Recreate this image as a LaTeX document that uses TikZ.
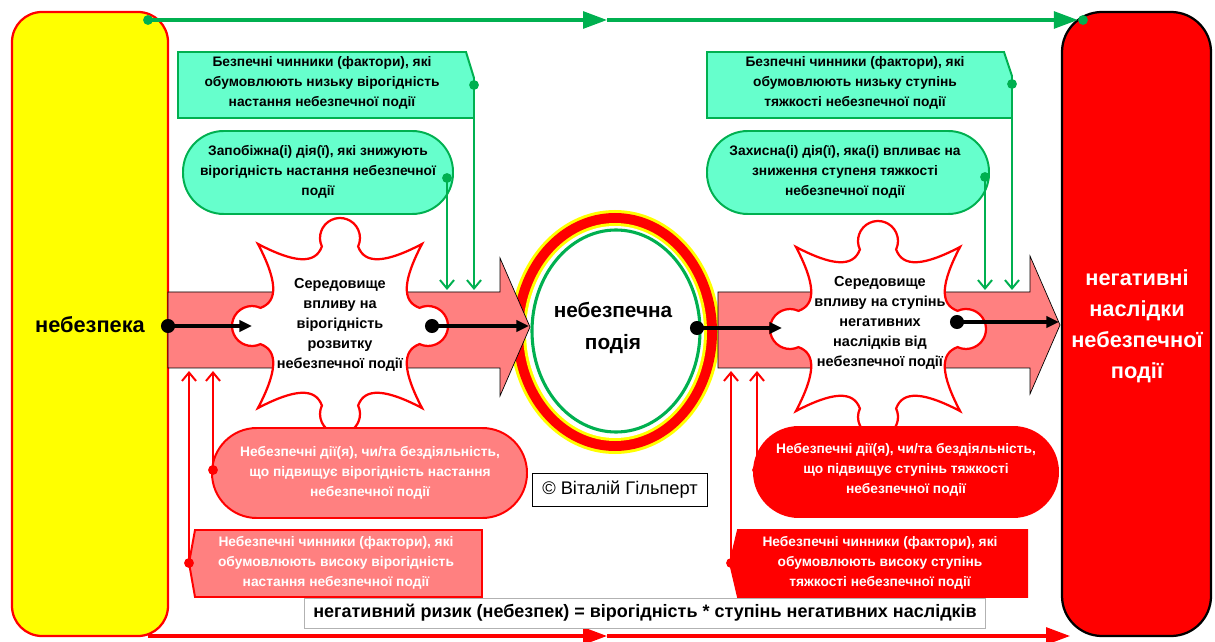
\documentclass[tikz,border=0pt]{standalone}
\usepackage{fontspec}
\setmainfont{Liberation Sans}
\usetikzlibrary{arrows.meta}
\definecolor{mint}{RGB}{102,255,204}
\definecolor{leaf}{RGB}{0,176,80}
\definecolor{rose}{RGB}{255,128,128}
\definecolor{alarm}{RGB}{255,0,0}
\definecolor{lemon}{RGB}{255,255,0}
\begin{document}
\begin{tikzpicture}[x=0.025cm,y=-0.025cm,
  boxtext/.style={font=\fontsize{9.8}{14}\selectfont\bfseries, align=center, inner sep=0pt},
  envtext/.style={font=\fontsize{10.3}{14.3}\selectfont\bfseries, align=center, inner sep=0pt},
  safebox/.style={fill=mint, draw=leaf, line width=1.4pt},
  riskbox/.style={fill=rose, draw=alarm, line width=1.4pt},
  hazardbox/.style={fill=alarm, draw=alarm, line width=1.4pt},
  gdot/.style={circle, fill=leaf, inner sep=0pt, minimum size=7pt},
  rdot/.style={circle, fill=alarm, inner sep=0pt, minimum size=7pt},
  kdot/.style={circle, fill=black, inner sep=0pt, minimum size=10pt},
  gflow/.style={draw=leaf, line width=1.4pt, -{Straight Barb[length=6pt,width=10pt]}},
  rflow/.style={draw=alarm, line width=1.4pt, -{Straight Barb[length=6pt,width=10pt]}},
  thrust/.style={draw=black, line width=2.2pt, -{Triangle[length=9pt,width=8pt]}},
  bigarrow/.style={fill=rose, draw=black, line width=0.5pt},
  jigsaw/.style={fill=white, draw=alarm, line width=1.6pt},
  timeline/.style={line width=2.2pt, -{Triangle[length=17pt,width=12pt]}}
]
\useasboundingbox (0,0) rectangle (1215,642);

% side columns: the hazard and its consequences
\draw[line width=1.6pt, draw=alarm, fill=lemon, rounded corners=0.75cm] (12,12) rectangle (168,636);
\node[font=\fontsize{15.5}{18}\selectfont\bfseries] (hazard) at (90,325) {небезпека};
\draw[line width=1.6pt, draw=black, fill=alarm, rounded corners=1cm] (1062,12) rectangle (1211,636);
\node[font=\fontsize{15.5}{22}\selectfont\bfseries, text=white, align=center] (outcome) at (1137,326) {негативні\\наслідки\\небезпечної\\події};

% top green time line
\node[gdot] (g0) at (148,20) {};
\coordinate (gmid) at (607,20);
\node[gdot] (g1) at (1083,20) {};
\draw[timeline, leaf] (g0.center) -- (gmid);
\draw[timeline, leaf] (gmid) -- (g1);

% bottom red time line
\coordinate (r0) at (148,636);
\coordinate (rmid) at (607,636);
\coordinate (r1) at (1070,636);
\draw[timeline, alarm] (r0) -- (rmid);
\draw[timeline, alarm] (rmid) -- (r1);

% the hazardous event: concentric rings
\coordinate (ev) at (615,332);
\fill[lemon] (ev) ellipse [x radius=105, y radius=122];
\fill[alarm] (ev) ellipse [x radius=102, y radius=119];
\fill[lemon] (ev) ellipse [x radius=92, y radius=109];
\fill[white] (ev) ellipse [x radius=89, y radius=106];
\draw[leaf, line width=2.2pt] (616,331) ellipse [x radius=84, y radius=101];
\node[font=\fontsize{14.8}{23}\selectfont\bfseries, align=center] (event) at (613,328) {небезпечна\\подія};

% broad arrows of development
\draw[bigarrow] (168,292) -- (500,292) -- (500,258) -- (530,327) -- (500,396) -- (500,368) -- (168,368) -- cycle;
\draw[bigarrow] (718,292) -- (1030,292) -- (1030,256) -- (1060,325) -- (1030,394) -- (1030,368) -- (718,368) -- cycle;

% jigsaw-shaped environments
\foreach \cx/\cy in {340/326, 878/329}{
  \begin{scope}[shift={(\cx,\cy)}]
    \draw[jigsaw] (-12.84:81.6)
      \foreach \a in {0,90,180,270}{
        arc[start angle=\a-115, end angle=\a+115, radius=20]
        .. controls ({\a+22}:66) and ({\a+36}:78) .. ({\a+45}:116)
        .. controls ({\a+54}:78) and ({\a+68}:66) .. ({\a+90-12.84}:81.6)
      } -- cycle;
  \end{scope}
}
\node[envtext] (env1) at (340,325) {Середовище\\впливу на\\вірогідність\\розвитку\\небезпечної події};
\node[envtext] (env2) at (880,323) {Середовище\\впливу на ступінь\\негативних\\наслідків від\\небезпечної події};

% black flow through the chain
\node[kdot] (k0) at (168,326) {};
\coordinate (k0e) at (252,326);
\node[kdot] (k1) at (432,326) {};
\coordinate (k1e) at (529,326);
\node[kdot] (k2) at (697,328) {};
\coordinate (k2e) at (782,328);
\node[kdot] (k3) at (957,322) {};
\coordinate (k3e) at (1059,322);
\draw[thrust] (k0.center) -- (k0e);
\draw[thrust] (k1.center) -- (k1e);
\draw[thrust] (k2.center) -- (k2e);
\draw[thrust] (k3.center) -- (k3e);

% safe factors and actions (green)
\draw[safebox] (178,52) -- (466,52) -- (474,78) -- (474,118) -- (178,118) -- cycle;
\node[boxtext] (b1) at (322,83) {Безпечні чинники (фактори), які\\обумовлюють низьку вірогідність\\настання небезпечної події};
\draw[safebox, rounded corners=1.02cm] (183,131) rectangle (453,214);
\node[boxtext] (b2) at (318,172) {Запобіжна(і) дія(ї), які знижують\\вірогідність настання небезпечної\\події};
\draw[safebox] (707,52) -- (1004,52) -- (1012,76) -- (1012,118) -- (707,118) -- cycle;
\node[boxtext] (b3) at (855,83) {Безпечні чинники (фактори), які\\обумовлюють низьку ступінь\\тяжкості небезпечної події};
\draw[safebox, rounded corners=1.02cm] (707,131) rectangle (989,214);
\node[boxtext] (b4) at (845,172) {Захисна(і) дія(ї), яка(і) впливає на\\зниження ступеня тяжкості\\небезпечної події};

\node[gdot] (d1) at (474,85) {};
\node[gdot] (d2) at (447,178) {};
\node[gdot] (d3) at (1012,84) {};
\node[gdot] (d4) at (985,177) {};
\coordinate (e1) at (474,290);
\coordinate (e2) at (447,290);
\coordinate (e3) at (1012,290);
\coordinate (e4) at (985,290);
\draw[gflow] (d1.center) -- (e1);
\draw[gflow] (d2.center) -- (e2);
\draw[gflow] (d3.center) -- (e3);
\draw[gflow] (d4.center) -- (e4);

% dangerous actions and factors (red)
\draw[riskbox, rounded corners=1.12cm] (212,428) rectangle (527,518);
\node[boxtext, text=white] (b5) at (370,473) {Небезпечні дії(я), чи/та бездіяльність,\\що підвищує вірогідність настання\\небезпечної події};
\draw[riskbox] (195,530) -- (482,530) -- (482,597) -- (195,597) -- (189,563) -- cycle;
\node[boxtext, text=white] (b6) at (336,563) {Небезпечні чинники (фактори), які\\обумовлюють високу вірогідність\\настання небезпечної події};
\draw[hazardbox, rounded corners=1.12cm] (754,427) rectangle (1058,517);
\node[boxtext, text=white] (b7) at (906,470) {Небезпечні дії(я), чи/та бездіяльність,\\що підвищує ступінь тяжкості\\небезпечної події};
\draw[hazardbox] (738,530) -- (1027,530) -- (1027,597) -- (738,597) -- (730,563) -- cycle;
\node[boxtext, text=white] (b8) at (880,563) {Небезпечні чинники (фактори), які\\обумовлюють високу ступінь\\тяжкості небезпечної події};

\node[rdot] (d5) at (213,470) {};
\node[rdot] (d6) at (189,563) {};
\node[rdot] (d7) at (757,470) {};
\node[rdot] (d8) at (731,563) {};
\coordinate (e5) at (213,371);
\coordinate (e6) at (189,371);
\coordinate (e7) at (757,371);
\coordinate (e8) at (731,371);
\draw[rflow] (d5.center) -- (e5);
\draw[rflow] (d6.center) -- (e6);
\draw[rflow] (d7.center) -- (e7);
\draw[rflow] (d8.center) -- (e8);

% author and risk formula
\node[draw=black, line width=0.8pt, minimum width=4.375cm, minimum height=0.83cm, inner sep=0pt,
  font=\fontsize{13}{15}\selectfont] (author) at (620,490) {© Віталій Гільперт};
\node[draw=black!30, line width=0.6pt, fill=white, minimum width=17cm, minimum height=0.75cm, inner sep=0pt,
  font=\fontsize{12.8}{15}\selectfont\bfseries] (formula) at (645,613) {негативний ризик (небезпек) = вірогідність * ступінь негативних наслідків};
\end{tikzpicture}
\end{document}
